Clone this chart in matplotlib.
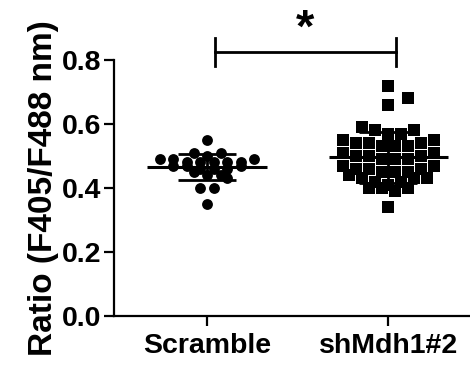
import numpy as np
import matplotlib
matplotlib.use('Agg')
import matplotlib.pyplot as plt

plt.rcParams['font.family'] = ['Liberation Sans', 'DejaVu Sans']
plt.rcParams['font.weight'] = 'bold'

# data
groups = ['Scramble', 'shMdh1#2']
scramble = [0.55,
            0.51, 0.51, 0.50,
            0.49, 0.49, 0.49, 0.48, 0.48, 0.48, 0.48, 0.48,
            0.47, 0.47, 0.47, 0.46, 0.46, 0.46,
            0.45, 0.44, 0.44, 0.43,
            0.40, 0.40,
            0.35]
shmdh = [0.72, 0.68, 0.66,
         0.59, 0.58, 0.58, 0.57, 0.57,
         0.55, 0.55, 0.54, 0.54, 0.54, 0.53, 0.53, 0.53,
         0.51, 0.51, 0.50, 0.50, 0.50, 0.49, 0.49, 0.49,
         0.47, 0.47, 0.46, 0.46, 0.46, 0.45, 0.45, 0.45,
         0.44, 0.43, 0.43, 0.43, 0.42, 0.42,
         0.41, 0.40, 0.40, 0.40, 0.39,
         0.34]
yticks = [0.0, 0.2, 0.4, 0.6, 0.8]

W, H = 470, 366
fig = plt.figure(figsize=(W / 100, H / 100), dpi=100)
ax = fig.add_axes([114 / W, 1 - 316 / H, 1 - 114 / W, (316 - 60) / H])
ax.set_xlim(-0.514, 1.45)
ax.set_ylim(0, 0.8)

px_x = 181.0  # pixels per x unit
px_y = 320.0  # pixels per y unit


def row_offsets(vals, step, centre, spacing, size):
    # Prism-like scatter: group values into rows, spread each row centre-out
    vals = np.asarray(vals)
    rows = np.round((vals - centre) / step)
    xs = np.zeros(len(vals))
    placed = []
    for r in np.unique(rows):
        idx = np.where(rows == r)[0]
        idx = idx[np.argsort(vals[idx], kind='stable')]
        n = len(idx)
        if n == 1:
            # lone point: step aside if it would sit on a neighbour
            for c in [0.0, 1.5, -1.5, 3.0, -3.0]:
                if all(max(abs(c * spacing - px), abs(vals[idx[0]] - pv) * px_y) >= size
                       for px, pv in placed):
                    break
            slots = [c]
        elif n % 2:
            slots = [0.0] + [s * k for k in range(1, n) for s in (1, -1)]
        else:
            slots = [s * (k + 0.5) for k in range(n) for s in (1, -1)]
        for j, ii in enumerate(idx):
            xs[ii] = slots[j] * spacing / px_x
            placed.append((slots[j] * spacing, vals[ii]))
    return xs


specs = [(scramble, 'o', 7.8, 0.02, 0.465, 13.5),
         (shmdh, 's', 8.3, 0.038, 0.50, 13.0)]
for i, (vals, mk, ms, step, centre, spacing) in enumerate(specs):
    vals = np.array(vals)
    xs = row_offsets(vals, step, centre, spacing, ms * 1.39)
    ax.plot(i + xs, vals, mk, color='black', markersize=ms, markeredgewidth=0,
            linestyle='none', clip_on=False, zorder=3)
    m = vals.mean()
    sd = vals.std(ddof=1)
    ax.hlines(m, i - 0.33, i + 0.33, color='black', lw=2.2, zorder=4)
    ax.errorbar(i, m, yerr=sd, color='black', lw=2, capsize=21, capthick=2,
                zorder=4)

# significance bracket
bx0, bx1, by = 0.045, 1.04, 0.825
ax.plot([bx0, bx1], [by, by], color='black', lw=2, clip_on=False)
ax.plot([bx0, bx0], [by - 0.045, by + 0.045], color='black', lw=2, clip_on=False)
ax.plot([bx1, bx1], [by - 0.045, by + 0.045], color='black', lw=2, clip_on=False)
ax.text((bx0 + bx1) / 2, by + 0.0, '*', ha='center', va='bottom',
        fontsize=34, fontweight='bold')

ax.set_xticks([0, 1])
ax.set_xticklabels(groups, fontsize=20.5, fontweight='bold')
ax.set_yticks(yticks)
ax.set_yticklabels(['%.1f' % t for t in yticks], fontsize=20.5, fontweight='bold')
ax.set_ylabel('Ratio (F405/F488 nm)', fontsize=24, fontweight='bold', labelpad=2)

for s in ['top', 'right']:
    ax.spines[s].set_visible(False)
for s in ['left', 'bottom']:
    ax.spines[s].set_linewidth(1.6)
ax.tick_params(width=1.6, length=7, pad=2)
ax.tick_params(axis='x', pad=5)

fig.savefig('out.png', dpi=100)
